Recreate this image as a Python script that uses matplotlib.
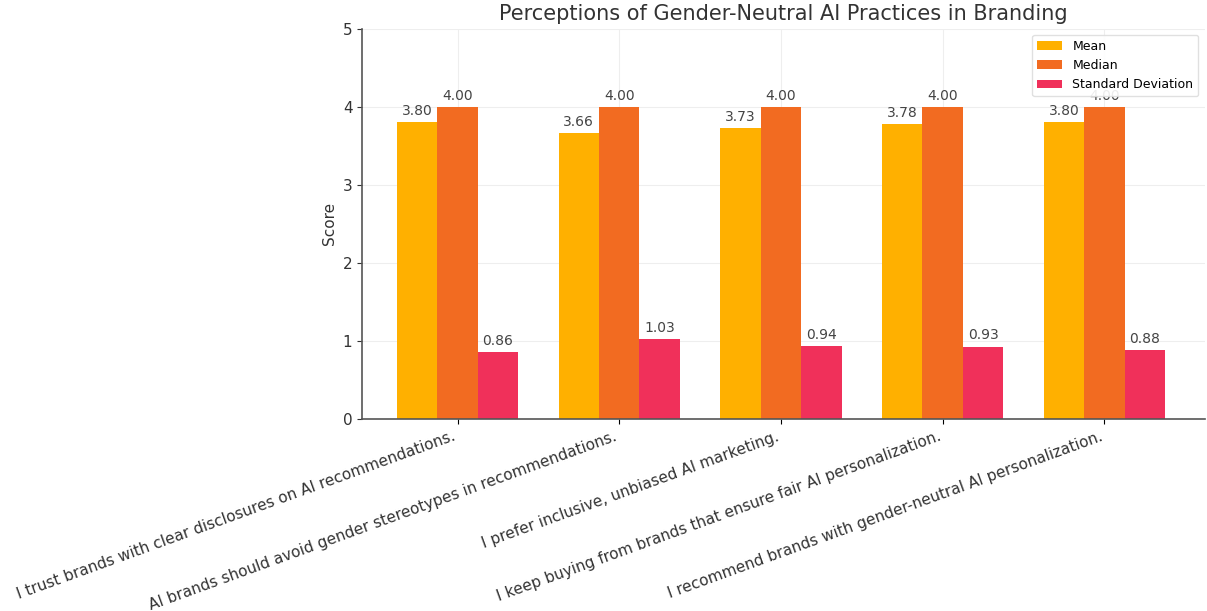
import numpy as np
import matplotlib.pyplot as plt

statements = [
    "I trust brands with clear disclosures on AI recommendations.",
    "AI brands should avoid gender stereotypes in recommendations.",
    "I prefer inclusive, unbiased AI marketing.",
    "I keep buying from brands that ensure fair AI personalization.",
    "I recommend brands with gender-neutral AI personalization.",
]
mean_scores = [3.80, 3.66, 3.73, 3.78, 3.80]
median_scores = [4.00, 4.00, 4.00, 4.00, 4.00]
std_scores = [0.86, 1.03, 0.94, 0.93, 0.88]

x = np.arange(len(statements))
width = 0.25

fig, ax = plt.subplots(figsize=(12.07, 6.11), dpi=100)
fig.subplots_adjust(left=0.300, right=0.998, top=0.953, bottom=0.314)

b1 = ax.bar(x - width, mean_scores, width, label="Mean", color="#FFB000")
b2 = ax.bar(x, median_scores, width, label="Median", color="#F26B21")
b3 = ax.bar(x + width, std_scores, width, label="Standard Deviation", color="#F0305A")

# value labels on top of each bar
for bars in (b1, b2, b3):
    for b in bars:
        h = b.get_height()
        ax.annotate(f"{h:.2f}", (b.get_x() + b.get_width() / 2, h),
                    xytext=(0, 3), textcoords="offset points",
                    ha="center", va="bottom", fontsize=10, color="#444444")

ax.set_ylim(0, 5)
ax.set_xlim(-0.59, 4.62)
ax.set_ylabel("Score", fontsize=11, color="#333333")
ax.set_title("Perceptions of Gender-Neutral AI Practices in Branding", fontsize=15, color="#333333")
ax.set_xticks(x)
ax.set_xticklabels(statements, rotation=20, ha="right", fontsize=11, color="#333333")
ax.tick_params(axis="y", labelsize=11, colors="#333333")
ax.grid(True, color="#eeeeee", linewidth=0.8)
ax.set_axisbelow(True)
for side in ("top", "right"):
    ax.spines[side].set_visible(False)
for side in ("left", "bottom"):
    ax.spines[side].set_color("#555555")
    ax.spines[side].set_linewidth(1.2)

ax.legend(loc="upper right", fontsize=9, framealpha=0.9, edgecolor="#dddddd")

fig.savefig("out.png", dpi=100)
